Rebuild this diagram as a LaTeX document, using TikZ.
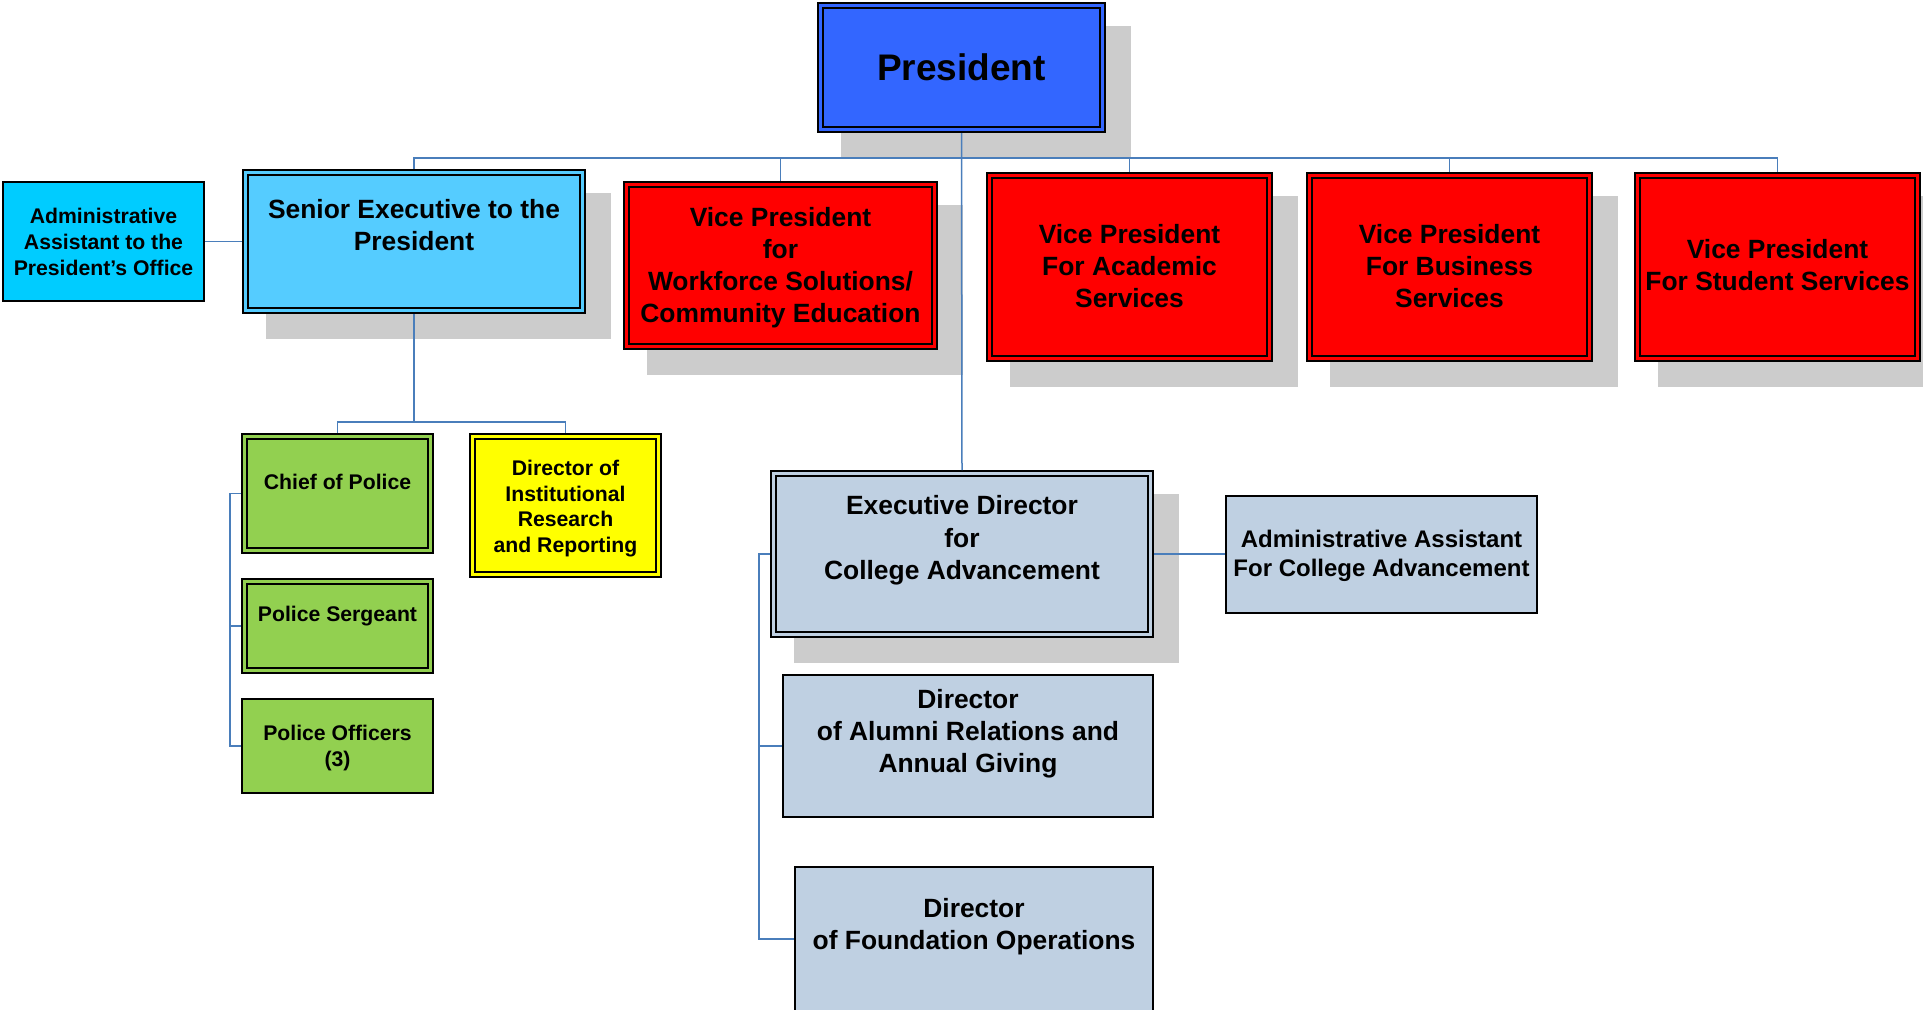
\documentclass[tikz,border=0pt]{standalone}
\usepackage{fontspec}
\setmainfont{Liberation Sans}
\usetikzlibrary{positioning,shadows}

\definecolor{presblue}{HTML}{3366FF}
\definecolor{seniorblue}{HTML}{55CCFF}
\definecolor{assistblue}{HTML}{00CCFF}
\definecolor{vpred}{HTML}{FF0000}
\definecolor{policegreen}{HTML}{92D050}
\definecolor{iryellow}{HTML}{FFFF00}
\definecolor{advgray}{HTML}{BFD0E2}
\definecolor{linkblue}{HTML}{4A7EBB}
\definecolor{shadowgray}{HTML}{CCCCCC}

\tikzset{
  dbox/.style={draw=black, fill=#1, double=#1, line width=1pt, double distance=1.5pt, outer sep=1.75pt, inner sep=0pt},
  sbox/.style={draw=black, fill=#1, line width=1pt, inner sep=0pt},
  shadowed/.style={general shadow={fill=shadowgray, draw=shadowgray, line width=4pt, shadow xshift=12pt, shadow yshift=-12pt}},
  bigtxt/.style={align=center, font=\bfseries\fontsize{13.2}{16}\selectfont},
  midtxt/.style={align=center, font=\bfseries\fontsize{12}{14.5}\selectfont},
  smalltxt/.style={align=center, font=\bfseries\fontsize{10.6}{12.9}\selectfont},
  vpbox/.style={dbox=vpred, shadowed, minimum width=140pt, minimum height=91.5pt},
  con/.style={draw=linkblue, line width=0.75pt}
}

\begin{document}
\begin{tikzpicture}[x=0.5pt, y=-0.5pt]
    \path[use as bounding box, fill=white] (0,0) rectangle (1923,1009);

    % top level
    \node[dbox=presblue, shadowed, minimum width=141pt, minimum height=62pt, font=\bfseries\fontsize{18.5}{22}\selectfont] (pres) at (961.5,67.5) {President};
    \node[dbox=seniorblue, shadowed, minimum width=168.5pt, minimum height=69pt] (senior) at (414,241.5) {};
    \node[bigtxt] (seniortxt) at ([yshift=8.2pt]senior.center) {Senior Executive to the\\President};
    \node[sbox=assistblue, minimum width=100.5pt, minimum height=59.5pt] (adminpres) at (103.5,241.5) {};
    \node[smalltxt] (adminprestxt) at ([yshift=-0.2pt]adminpres.center) {Administrative\\Assistant to the\\President’s Office};

    \node[vpbox, minimum width=154pt, minimum height=81pt] (vpwork) at (780.5,265.5) {};
    \node[vpbox] (vpacad) at (1129.5,267) {};
    \node[vpbox, right=16.5pt of vpacad] (vpbus) {};
    \node[vpbox, right=20.5pt of vpbus] (vpstud) {};
    \node[bigtxt] (vpworktxt) at ([yshift=-1.3pt]vpwork.center) {Vice President\\for\\Workforce Solutions/\\Community Education};
    \node[bigtxt] (vpacadtxt) at ([yshift=0.5pt]vpacad.center) {Vice President\\For Academic\\Services};
    \node[bigtxt] (vpbustxt) at ([yshift=0.5pt]vpbus.center) {Vice President\\For Business\\Services};
    \node[bigtxt] (vpstudtxt) at ([yshift=1pt]vpstud.center) {Vice President\\For Student Services};

    % police and research
    \node[dbox=policegreen, minimum width=93pt, minimum height=57pt] (chief) at (337.5,493.5) {};
    \node[smalltxt] (chieftxt) at ([yshift=5.75pt]chief.center) {Chief of Police};
    \node[dbox=policegreen, minimum width=93pt, minimum height=44.5pt, below=12pt of chief] (sergeant) {};
    \node[smalltxt] (sergeanttxt) at ([yshift=5pt]sergeant.center) {Police Sergeant};
    \node[sbox=policegreen, minimum width=95.5pt, minimum height=47pt, below=12pt of sergeant] (officers) {};
    \node[align=center, font=\bfseries\fontsize{10.6}{13.4}\selectfont] (officerstxt) at ([yshift=-1pt]officers.center) {Police Officers\\(3)};
    \node[dbox=iryellow, minimum width=93pt, minimum height=69pt] (research) at (565.5,505.5) {};
    \node[smalltxt] (researchtxt) at ([yshift=-1.5pt]research.center) {Director of\\Institutional\\Research\\and Reporting};

    % college advancement
    \node[dbox=advgray, shadowed, minimum width=188.5pt, minimum height=80.5pt] (exec) at (962,554) {};
    \node[align=center, font=\bfseries\fontsize{13.2}{16.25}\selectfont] (exectxt) at ([yshift=6.7pt]exec.center) {Executive Director\\for\\College Advancement};
    \node[sbox=advgray, minimum width=155.5pt, minimum height=58.5pt, right=35.5pt of exec] (admincol) {};
    \node[midtxt] (admincoltxt) at ([yshift=-1pt]admincol.center) {Administrative Assistant\\For College Advancement};
    \node[sbox=advgray, minimum width=185pt, minimum height=71pt] (alumni) at (968,746) {};
    \node[bigtxt] (alumnitxt) at ([yshift=6.2pt]alumni.center) {Director\\of Alumni Relations and\\Annual Giving};
    \node[sbox=advgray, minimum width=179pt, minimum height=72pt] (foundation) at (974,939) {};
    \node[bigtxt] (foundationtxt) at ([yshift=6.2pt]foundation.center) {Director\\of Foundation Operations};

    % connectors
    \coordinate (bus) at (961.5,158);
    \coordinate (staffbus) at (414,422);
    \coordinate (advbar) at ([xshift=-5.5pt]exec.west);
    \draw[con] (pres.south) -- (exec.north);
    \draw[con] (senior.north) |- (bus) -| (vpstud.north);
    \foreach \vp in {vpwork,vpacad,vpbus}
        \draw[con] (bus -| \vp.north) -- (\vp.north);
    \draw[con] (adminpres) -- (senior);
    \draw[con] (senior.south) -- (staffbus);
    \draw[con] (chief.north) |- (staffbus) -| (research.north);
    \draw[con] (chief.west) -- ++(-5.5pt,0) |- (officers.west);
    \draw[con] (sergeant.west) -- ++(-5.5pt,0);
    \draw[con] (exec.west) -- (advbar) |- (foundation.west);
    \draw[con] (advbar |- alumni.west) -- (alumni.west);
    \draw[con] (exec) -- (admincol);
\end{tikzpicture}
\end{document}
